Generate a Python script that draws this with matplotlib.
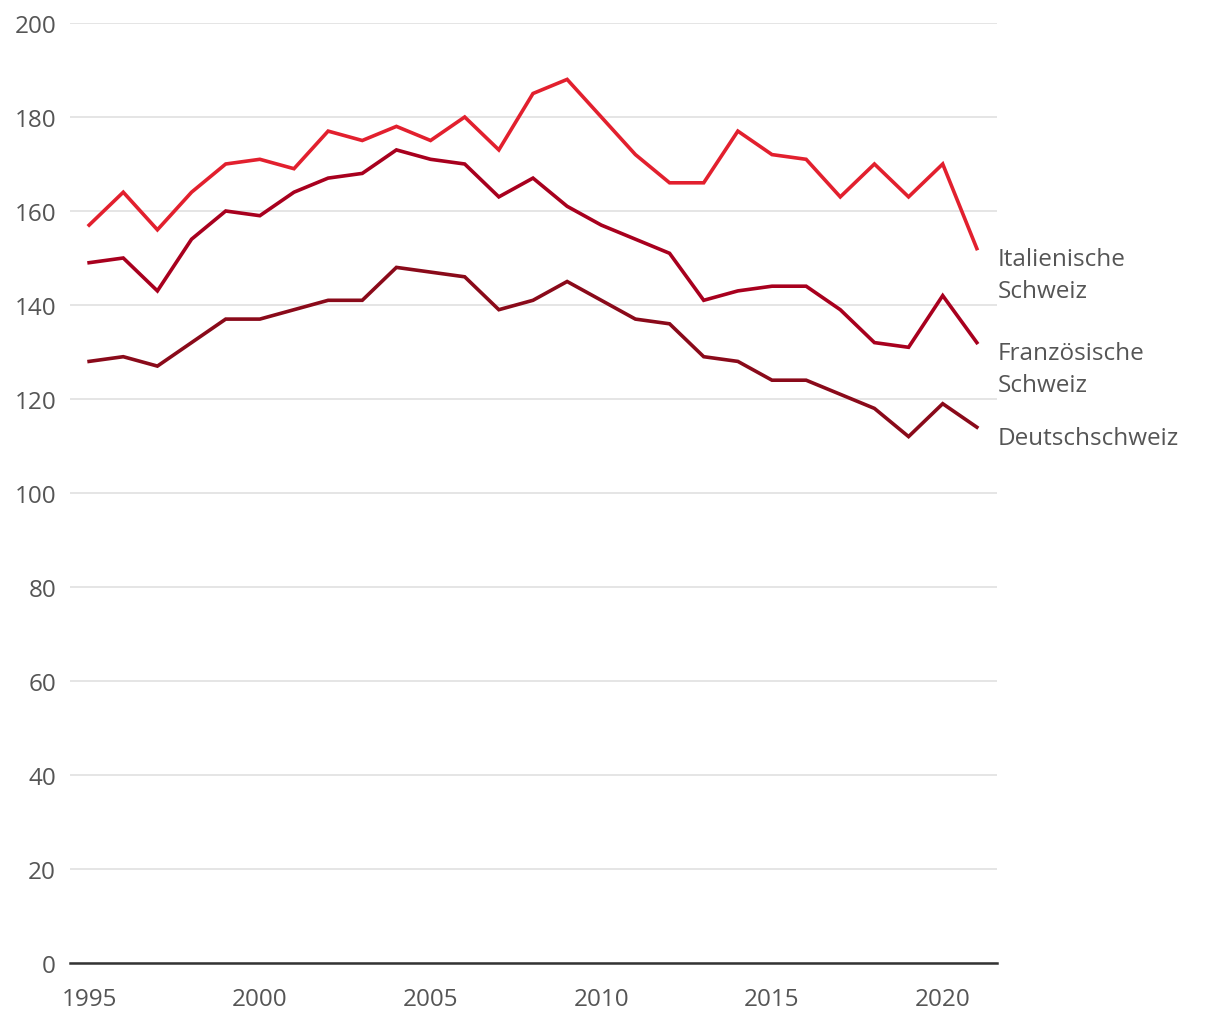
import matplotlib
matplotlib.use("Agg")
import matplotlib.pyplot as plt
import numpy as np

years = list(range(1995, 2022))
italienische = [157, 164, 156, 164, 170, 171, 169, 177, 175, 178, 175, 180, 173, 185, 188,
                180, 172, 166, 166, 177, 172, 171, 163, 170, 163, 170, 152]
franzoesische = [149, 150, 143, 154, 160, 159, 164, 167, 168, 173, 171, 170, 163, 167, 161,
                 157, 154, 151, 141, 143, 144, 144, 139, 132, 131, 142, 132]
deutsch = [128, 129, 127, 132, 137, 137, 139, 141, 141, 148, 147, 146, 139, 141, 145,
           141, 137, 136, 129, 128, 124, 124, 121, 118, 112, 119, 114]
series_names = ["Italienische\nSchweiz", "Französische\nSchweiz", "Deutschschweiz"]
series_values = [italienische, franzoesische, deutsch]
series_colors = ["#E2202E", "#A8001E", "#8A0A1A"]
y_ticks = [0, 20, 40, 60, 80, 100, 120, 140, 160, 180, 200]
x_ticks = [1995, 2000, 2005, 2010, 2015, 2020]

plt.rcParams['font.family'] = ['Open Sans', 'DejaVu Sans']
W, H = 1220, 1020
fig = plt.figure(figsize=(W / 100, H / 100), dpi=100)
ax = fig.add_axes([70 / W, 1 - 964 / H, (997 - 70) / W, (964 - 24) / H])

for vals, col in zip(series_values, series_colors):
    ax.plot(years, vals, color=col, lw=2.6, solid_joinstyle='miter', zorder=3)

ax.set_xlim(1994.44, 2021.59)
ax.set_ylim(0, 200)
ax.set_yticks(y_ticks)
ax.set_xticks(x_ticks)
ax.grid(axis='y', color='#E3E3E3', lw=1.3)
ax.grid(axis='x', visible=False)
ax.set_axisbelow(True)
for s in ['top', 'right', 'left']:
    ax.spines[s].set_visible(False)
ax.spines['bottom'].set_color('#333333')
ax.spines['bottom'].set_linewidth(1.8)
ax.tick_params(axis='both', length=0, labelsize=17.5, labelcolor='#555555')
ax.tick_params(axis='y', pad=10)
ax.tick_params(axis='x', pad=17)

for name, vals in zip(series_names, series_values):
    ax.annotate(name, xy=(years[-1], vals[-1]), xycoords='data',
                xytext=(15, 1), textcoords='offset points',
                ha='left', va='top', fontsize=17.5, color='#555555',
                linespacing=1.45, annotation_clip=False)

fig.savefig("out.png", dpi=100)
